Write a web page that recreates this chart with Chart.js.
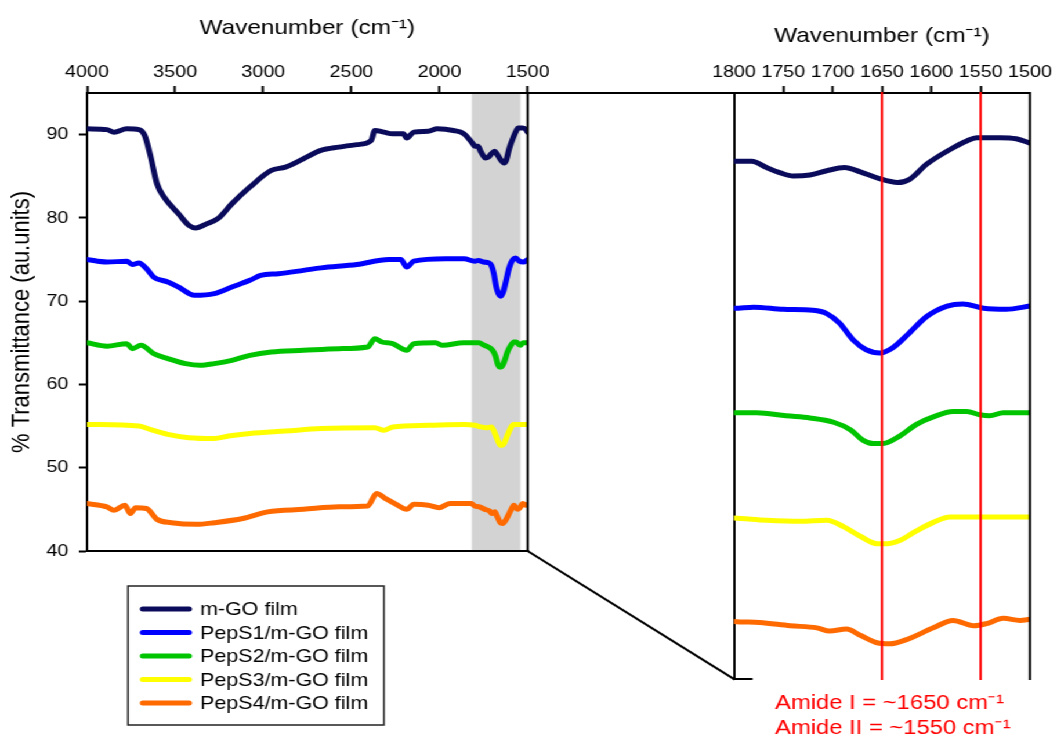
<!DOCTYPE html>
<html>
<head>
<meta charset="utf-8">
<script src="https://cdn.jsdelivr.net/npm/chart.js@4.4.1/dist/chart.umd.min.js"></script>
<style>
  html, body { margin: 0; padding: 0; background: #ffffff; overflow: hidden; }
  /* the figure is drawn on a 911px-wide canvas and widened to the 1057px page */
  #wrap { position: relative; width: 911px; height: 738px; transform: scaleX(1.16026); transform-origin: 0 0; }
  #wrap canvas { position: absolute; left: 0; top: 0; }
</style>
</head>
<body>
<div id="wrap">
  <canvas id="fullRange" width="911" height="738"></canvas>
  <canvas id="amideRange" width="911" height="738"></canvas>
</div>
<script>
// FTIR spectra: wavenumber (cm-1) and % transmittance for each film
const seriesNames = ['m-GO film', 'PepS1/m-GO film', 'PepS2/m-GO film', 'PepS3/m-GO film', 'PepS4/m-GO film'];
const seriesColors = ['#0b0b5c', '#0000ff', '#00c400', '#ffff00', '#ff6a00'];

const mgoWn = [4000, 3887, 3847, 3774, 3705, 3673, 3643, 3603, 3563, 3481, 3422, 3384, 3320, 3258, 3178, 3076, 2955, 2874, 2772, 2673, 2571, 2469, 2388, 2367, 2316, 2266, 2205, 2186, 2146, 2064, 2013, 1922, 1861, 1811,
               1800, 1782, 1767, 1753, 1740, 1723, 1706, 1688, 1672, 1654, 1634, 1622, 1605, 1581, 1564, 1554, 1530, 1514, 1500];
const mgoT  = [90.7, 90.6, 90.3, 90.7, 90.6, 89.9, 87.7, 84.1, 82.5, 80.5, 79.1, 78.8, 79.3, 79.9, 81.7, 83.7, 85.7, 86.1, 87.1, 88.1, 88.5, 88.8, 89.3, 90.5, 90.3, 90.1, 90.1, 89.6, 90.3, 90.4, 90.7, 90.5, 90.1, 88.9,
               88.6, 88.6, 88.0, 87.5, 87.2, 87.3, 87.7, 88.0, 87.6, 87.0, 86.6, 86.9, 88.3, 89.7, 90.5, 90.8, 90.8, 90.7, 90.3];

const peps1Wn = [4000, 3887, 3774, 3743, 3705, 3663, 3622, 3541, 3481, 3390, 3278, 3178, 3076, 3015, 2914, 2772, 2671, 2469, 2288, 2220, 2186, 2146, 1965, 1861,
                 1800, 1780, 1750, 1720, 1706, 1693, 1679, 1666, 1652, 1639, 1622, 1605, 1584, 1568, 1547, 1524, 1500];
const peps1T  = [75.0, 74.7, 74.8, 74.4, 74.6, 73.9, 72.9, 72.3, 71.7, 70.7, 70.9, 71.7, 72.5, 73.1, 73.3, 73.7, 74.0, 74.4, 75.0, 75.0, 74.1, 74.8, 75.1, 75.1,
                 74.8, 74.9, 74.7, 74.6, 74.3, 73.4, 71.8, 70.9, 70.6, 71.1, 72.5, 74.0, 75.0, 75.2, 74.8, 74.7, 75.0];

const peps2Wn = [4000, 3887, 3774, 3743, 3694, 3622, 3541, 3440, 3359, 3278, 3178, 3076, 2955, 2772, 2571, 2408, 2367, 2327, 2266, 2186, 2146, 2023, 1982, 1863,
                 1800, 1777, 1747, 1723, 1699, 1682, 1669, 1659, 1649, 1632, 1615, 1598, 1578, 1564, 1551, 1541, 1527, 1500];
const peps2T  = [65.0, 64.6, 64.9, 64.3, 64.7, 63.7, 63.1, 62.5, 62.3, 62.5, 62.9, 63.5, 63.9, 64.1, 64.3, 64.5, 65.5, 65.1, 64.9, 64.1, 64.9, 65.0, 64.7, 65.0,
                 65.0, 65.0, 64.7, 64.5, 64.1, 63.4, 62.4, 62.1, 62.1, 62.8, 63.9, 64.6, 65.1, 65.1, 64.8, 64.7, 65.0, 65.0];

const peps3Wn = [4000, 3705, 3643, 3541, 3422, 3278, 3197, 3076, 2874, 2671, 2367, 2316, 2266, 2064, 1861,
                 1800, 1767, 1733, 1706, 1689, 1672, 1655, 1645, 1632, 1615, 1598, 1581, 1500];
const peps3T  = [55.2, 55.0, 54.6, 54.0, 53.6, 53.5, 53.8, 54.1, 54.4, 54.7, 54.8, 54.5, 54.9, 55.1, 55.2,
                 55.1, 54.9, 54.8, 54.9, 54.3, 53.4, 52.7, 52.7, 53.0, 53.9, 54.7, 55.2, 55.2];

const peps4Wn = [4000, 3887, 3847, 3785, 3754, 3724, 3663, 3603, 3521, 3380, 3278, 3116, 2975, 2772, 2570, 2408, 2357, 2307, 2246, 2186, 2146, 2064, 2003, 1942, 1820,
                 1800, 1774, 1743, 1716, 1703, 1686, 1672, 1655, 1642, 1625, 1598, 1578, 1557, 1544, 1527, 1510, 1500];
const peps4T  = [45.7, 45.3, 44.9, 45.5, 44.5, 45.2, 45.1, 43.8, 43.4, 43.2, 43.4, 43.9, 44.7, 45.0, 45.3, 45.4, 46.9, 46.3, 45.6, 45.0, 45.6, 45.5, 45.2, 45.7, 45.7,
                 45.4, 45.3, 45.0, 44.8, 44.5, 44.7, 44.1, 43.4, 43.3, 43.7, 44.8, 45.5, 45.0, 45.2, 45.7, 45.5, 45.6];

const seriesWn = [mgoWn, peps1Wn, peps2Wn, peps3Wn, peps4Wn];
const seriesT  = [mgoT, peps1T, peps2T, peps3T, peps4T];

// Axis ranges and ticks
const fullRange  = [4000, 1500];
const fullStep   = 500;
const amideRange = [1800, 1500];
const amideStep  = 50;
const transRange = [40, 95];
const transStep  = 10;

// Shaded region on the full spectrum that is expanded on the right
const highlightBand = [1817, 1541];

// Amide band markers
const amideLines  = [1650, 1550];
const amideLabels = ['Amide I = ~1650 cm\u207B\u00B9', 'Amide II = ~1550 cm\u207B\u00B9'];

const FONT = '"Liberation Sans", Arial, Helvetica, sans-serif';
const plainNumber = v => String(v);

function makeDatasets() {
  return seriesNames.map((name, i) => ({
    label: name,
    data: seriesWn[i].map((w, j) => ({ x: w, y: seriesT[i][j] })),
    borderColor: seriesColors[i],
    backgroundColor: seriesColors[i],
    borderWidth: 5,
    pointRadius: 0,
    fill: false,
    cubicInterpolationMode: 'monotone',
    borderCapStyle: 'round',
    borderJoinStyle: 'round'
  }));
}

function line(ctx, x1, y1, x2, y2, color, width) {
  ctx.save();
  ctx.strokeStyle = color;
  ctx.lineWidth = width;
  ctx.lineCap = 'square';
  ctx.beginPath();
  ctx.moveTo(x1, y1);
  ctx.lineTo(x2, y2);
  ctx.stroke();
  ctx.restore();
}

// Grey band, closing frame lines and the legend box of the full-range panel
const fullPanelDecor = {
  id: 'fullPanelDecor',
  beforeDatasetsDraw(chart) {
    const { ctx, chartArea: a, scales: { x } } = chart;
    const x1 = x.getPixelForValue(highlightBand[0]);
    const x2 = x.getPixelForValue(highlightBand[1]);
    ctx.save();
    ctx.fillStyle = '#d3d3d3';
    ctx.fillRect(x1, a.top + 1, x2 - x1, a.bottom - a.top - 2);
    ctx.restore();
  },
  afterDraw(chart) {
    const { ctx, chartArea: a } = chart;
    line(ctx, a.right, a.top, a.right, a.bottom, '#000', 2);
    line(ctx, a.left, a.bottom, a.right, a.bottom, '#000', 2);

    // legend
    const bx = 110.3, by = 586, bw = 220.6, bh = 139;
    ctx.save();
    ctx.strokeStyle = '#222';
    ctx.lineWidth = 1.5;
    ctx.strokeRect(bx, by, bw, bh);
    ctx.font = '18.5px ' + FONT;
    ctx.textBaseline = 'middle';
    ctx.textAlign = 'left';
    chart.data.datasets.forEach((ds, i) => {
      const yy = 609 + i * 23.5;
      ctx.strokeStyle = ds.borderColor;
      ctx.lineWidth = 5;
      ctx.lineCap = 'round';
      ctx.beginPath();
      ctx.moveTo(123, yy);
      ctx.lineTo(163, yy);
      ctx.stroke();
      ctx.fillStyle = '#000';
      ctx.fillText(ds.label, 172.4, yy + 1);
    });
    ctx.restore();
  }
};

const fullChart = new Chart(document.getElementById('fullRange'), {
  type: 'line',
  data: { datasets: makeDatasets() },
  options: {
    responsive: false,
    animation: false,
    events: [],
    layout: { padding: { left: 0, top: 0, right: 456.2, bottom: 187 } },
    plugins: { legend: { display: false }, tooltip: { enabled: false } },
    scales: {
      x: {
        type: 'linear', position: 'top', reverse: true,
        min: fullRange[1], max: fullRange[0],
        ticks: { stepSize: fullStep, callback: plainNumber, color: '#000', font: { family: FONT, size: 17 }, padding: 3, maxRotation: 0, autoSkip: false },
        grid: { drawOnChartArea: false, drawTicks: true, tickLength: 7, tickColor: '#000', tickWidth: 2 },
        border: { display: true, color: '#000', width: 2 },
        title: { display: true, text: 'Wavenumber (cm\u207B\u00B9)', color: '#000', font: { family: FONT, size: 21 }, padding: { top: 16, bottom: 0 } },
        afterFit(s) { s.height = 93; }
      },
      y: {
        type: 'linear', position: 'left',
        min: transRange[0], max: transRange[1],
        ticks: { stepSize: transStep, includeBounds: false, callback: plainNumber, color: '#000', font: { family: FONT, size: 17 }, padding: 9 },
        grid: { drawOnChartArea: false, drawTicks: true, tickLength: 7, tickColor: '#000', tickWidth: 2 },
        border: { display: true, color: '#000', width: 2 },
        title: { display: true, text: '% Transmittance (au.units)', color: '#000', font: { family: FONT, size: 22 }, padding: { top: 6, bottom: 0 } },
        afterFit(s) { s.width = 75; }
      }
    }
  },
  plugins: [fullPanelDecor]
});

// Amide markers, zoom connectors and labels of the expanded panel
const amidePanelDecor = {
  id: 'amidePanelDecor',
  afterDatasetsDraw(chart) {
    const { ctx, chartArea: a, scales: { x } } = chart;
    amideLines.forEach(w => {
      const px = x.getPixelForValue(w);
      line(ctx, px, a.top, px, a.bottom, '#ff0000', 2);
    });
  },
  afterDraw(chart) {
    const { ctx, chartArea: a } = chart;
    const f = fullChart.chartArea;
    line(ctx, a.right, a.top, a.right, a.bottom, '#000', 2);
    line(ctx, a.left, a.bottom, a.left + 15, a.bottom, '#000', 2);
    // connectors from the shaded window to the expanded panel
    line(ctx, f.right, f.top, a.left, a.top, '#000', 2);
    line(ctx, f.right, f.bottom, a.left, a.bottom, '#000', 2);

    ctx.save();
    ctx.fillStyle = '#ff0000';
    ctx.font = '20.5px ' + FONT;
    ctx.textAlign = 'left';
    ctx.textBaseline = 'alphabetic';
    ctx.fillText(amideLabels[0], 668, 709);
    ctx.fillText(amideLabels[1], 668, 734);
    ctx.restore();
  }
};

const amideChart = new Chart(document.getElementById('amideRange'), {
  type: 'line',
  data: { datasets: makeDatasets() },
  options: {
    responsive: false,
    animation: false,
    events: [],
    layout: { padding: { left: 0, top: 0, right: 23.3, bottom: 59 } },
    plugins: { legend: { display: false }, tooltip: { enabled: false } },
    scales: {
      x: {
        type: 'linear', position: 'top', reverse: true,
        min: amideRange[1], max: amideRange[0],
        ticks: { stepSize: amideStep, callback: plainNumber, color: '#000', font: { family: FONT, size: 17 }, padding: 3, maxRotation: 0, autoSkip: false },
        grid: {
          drawOnChartArea: false, drawTicks: true, tickLength: 7, tickWidth: 2,
          tickColor: c => (c.tick && (c.tick.value === amideRange[0] || c.tick.value === amideRange[1])) ? 'rgba(0,0,0,0)' : '#000'
        },
        border: { display: true, color: '#000', width: 2 },
        title: { display: true, text: 'Wavenumber (cm\u207B\u00B9)', color: '#000', font: { family: FONT, size: 21 }, padding: { top: 24, bottom: 0 } },
        afterFit(s) { s.height = 93; }
      },
      y: {
        type: 'linear', position: 'left',
        min: transRange[0], max: transRange[1],
        ticks: { display: false },
        grid: { drawOnChartArea: false, drawTicks: false },
        border: { display: true, color: '#000', width: 2 },
        afterFit(s) { s.width = 632.6; }
      }
    }
  },
  plugins: [amidePanelDecor]
});
</script>
</body>
</html>
